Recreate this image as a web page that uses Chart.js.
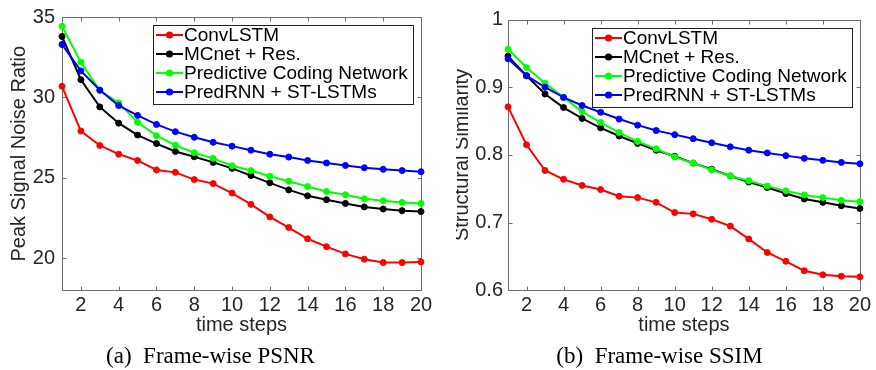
<!DOCTYPE html>
<html>
<head>
<meta charset="utf-8">
<script src="https://cdn.jsdelivr.net/npm/chart.js@4/dist/chart.umd.min.js"></script>
<style>
body { margin: 0; background: #fff; width: 876px; height: 370px; position: relative; overflow: hidden; }
#psnrChart { position: absolute; left: 0; top: 0; }
#ssimChart { position: absolute; left: 456px; top: 0; }
</style>
</head>
<body>
<canvas id="psnrChart" width="440" height="370"></canvas>
<canvas id="ssimChart" width="420" height="370"></canvas>
<script>
// 数据
const timeSteps = [1, 2, 3, 4, 5, 6, 7, 8, 9, 10, 11, 12, 13, 14, 15, 16, 17, 18, 19, 20];
const xTicks = [2, 4, 6, 8, 10, 12, 14, 16, 18, 20];
const seriesNames = ['ConvLSTM', 'MCnet + Res.', 'Predictive Coding Network', 'PredRNN + ST-LSTMs'];
const seriesColors = ['#ff0000', '#000000', '#00ff00', '#0000ff'];

const psnrConvLSTM = [30.69, 27.91, 27.01, 26.47, 26.08, 25.49, 25.34, 24.89, 24.64, 24.05, 23.35, 22.57, 21.91, 21.21, 20.72, 20.27, 19.94, 19.73, 19.73, 19.77];
const psnrMCnet = [33.79, 31.10, 29.41, 28.40, 27.66, 27.13, 26.64, 26.31, 25.96, 25.59, 25.14, 24.69, 24.25, 23.88, 23.64, 23.41, 23.19, 23.06, 22.96, 22.90];
const psnrPCN = [34.42, 32.19, 30.42, 29.66, 28.45, 27.62, 27.03, 26.56, 26.21, 25.75, 25.45, 25.10, 24.79, 24.46, 24.15, 23.95, 23.70, 23.58, 23.47, 23.41];
const psnrPredRNN = [33.29, 31.65, 30.46, 29.49, 28.88, 28.32, 27.87, 27.52, 27.21, 26.97, 26.72, 26.47, 26.29, 26.08, 25.92, 25.77, 25.63, 25.53, 25.45, 25.38];
const psnrTicks = [20, 25, 30, 35];

const ssimConvLSTM = [0.871, 0.815, 0.777, 0.764, 0.755, 0.749, 0.739, 0.737, 0.730, 0.715, 0.713, 0.705, 0.695, 0.676, 0.656, 0.643, 0.629, 0.623, 0.621, 0.620];
const ssimMCnet = [0.946, 0.917, 0.890, 0.870, 0.854, 0.840, 0.828, 0.817, 0.807, 0.798, 0.788, 0.779, 0.769, 0.760, 0.752, 0.743, 0.735, 0.730, 0.725, 0.721];
const ssimPCN = [0.956, 0.929, 0.906, 0.885, 0.864, 0.848, 0.833, 0.820, 0.809, 0.797, 0.788, 0.778, 0.769, 0.762, 0.754, 0.747, 0.741, 0.737, 0.733, 0.731];
const ssimPredRNN = [0.942, 0.917, 0.900, 0.885, 0.873, 0.863, 0.853, 0.844, 0.836, 0.830, 0.824, 0.818, 0.812, 0.807, 0.803, 0.799, 0.795, 0.792, 0.789, 0.787];
const ssimTicks = [0.6, 0.7, 0.8, 0.9, 1];

const sansFont = '"Liberation Sans", Arial, sans-serif';
const textColor = '#262626';

// MATLAB 风格的边框和向内刻度
const boxPlugin = {
    id: 'matlabBox',
    beforeDatasetsDraw(chart) {
        const { ctx, chartArea: a, scales } = chart;
        const l = Math.round(a.left) + 0.5, r = Math.round(a.right) + 0.5;
        const t = Math.round(a.top) + 0.5, b = Math.round(a.bottom) + 0.5;
        ctx.save();
        ctx.strokeStyle = '#6e6e6e';
        ctx.lineWidth = 1;
        ctx.strokeRect(l, t, r - l, b - t);
        ctx.beginPath();
        scales.x.ticks.forEach(tk => {
            const px = Math.round(scales.x.getPixelForValue(tk.value)) + 0.5;
            ctx.moveTo(px, b); ctx.lineTo(px, b - 4);
            ctx.moveTo(px, t); ctx.lineTo(px, t + 4);
        });
        scales.y.ticks.forEach(tk => {
            const py = Math.round(scales.y.getPixelForValue(tk.value)) + 0.5;
            ctx.moveTo(l, py); ctx.lineTo(l + 4, py);
            ctx.moveTo(r, py); ctx.lineTo(r - 4, py);
        });
        ctx.stroke();
        ctx.restore();
    }
};

// 带边框的图例
const legendPlugin = {
    id: 'boxLegend',
    afterDraw(chart) {
        const { ctx, chartArea: a } = chart;
        const sets = chart.data.datasets;
        ctx.save();
        ctx.font = '19px ' + sansFont;
        const textW = Math.max(...sets.map(d => ctx.measureText(d.label).width));
        const w = Math.round(31 + textW + 5), h = 79;
        const right = Math.round(a.right) - 8, top = Math.round(a.top) + 8;
        const left = right - w;
        ctx.fillStyle = '#fff';
        ctx.fillRect(left, top, w, h);
        ctx.strokeStyle = '#222';
        ctx.lineWidth = 1;
        ctx.strokeRect(left + 0.5, top + 0.5, w, h);
        sets.forEach((d, i) => {
            const cy = top + 10 + i * 19;
            ctx.strokeStyle = d.borderColor;
            ctx.lineWidth = 2;
            ctx.beginPath();
            ctx.moveTo(left + 3, cy);
            ctx.lineTo(left + 30, cy);
            ctx.stroke();
            ctx.fillStyle = d.borderColor;
            ctx.beginPath();
            ctx.arc(left + 16.5, cy, 3.6, 0, Math.PI * 2);
            ctx.fill();
            ctx.fillStyle = '#000';
            ctx.textBaseline = 'middle';
            ctx.fillText(d.label, left + 31, cy + 1);
        });
        ctx.restore();
    }
};

function createChart(canvasId, yTitle, caption, series, yMin, yMax, yTicks, pad) {
    const ctx = document.getElementById(canvasId).getContext('2d');
    return new Chart(ctx, {
        type: 'line',
        data: {
            datasets: series.map((values, i) => ({
                label: seriesNames[i],
                data: timeSteps.map((x, j) => ({ x: x, y: values[j] })),
                borderColor: seriesColors[i],
                backgroundColor: seriesColors[i],
                borderWidth: 2,
                pointRadius: 3,
                pointBorderWidth: 1,
                tension: 0,
                clip: false,
                order: series.length - i
            }))
        },
        options: {
            responsive: false,
            animation: false,
            devicePixelRatio: 1,
            layout: { padding: { left: 0, right: pad.right, top: pad.top, bottom: 0 } },
            scales: {
                x: {
                    type: 'linear',
                    min: 1,
                    max: 20,
                    afterBuildTicks: s => { s.ticks = xTicks.map(v => ({ value: v })); },
                    afterFit: s => { s.height = 55.3; },
                    grid: { display: false, drawTicks: false },
                    border: { display: false },
                    ticks: {
                        color: textColor,
                        padding: 5,
                        maxRotation: 0,
                        font: { family: sansFont, size: 20, lineHeight: 1 },
                        callback: v => String(v)
                    },
                    title: {
                        display: true,
                        text: 'time steps',
                        color: textColor,
                        padding: { top: 0, bottom: 10.3 },
                        font: { family: sansFont, size: 20, lineHeight: 1 }
                    }
                },
                y: {
                    min: yMin,
                    max: yMax,
                    afterBuildTicks: s => { s.ticks = yTicks.map(v => ({ value: v })); },
                    afterFit: s => { s.width = pad.left; },
                    grid: { display: false, drawTicks: false },
                    border: { display: false },
                    ticks: {
                        color: textColor,
                        padding: pad.tickPad,
                        font: { family: sansFont, size: 20, lineHeight: 1 },
                        callback: v => String(v)
                    },
                    title: {
                        display: true,
                        text: yTitle,
                        color: textColor,
                        padding: { top: pad.titlePad, bottom: 0 },
                        font: { family: sansFont, size: 20, lineHeight: 0.6 }
                    }
                }
            },
            plugins: {
                legend: { display: false },
                tooltip: { enabled: false },
                title: {
                    display: true,
                    position: 'bottom',
                    text: caption,
                    color: '#000',
                    padding: { top: 0, bottom: 1.3 },
                    font: { family: '"Liberation Serif", "Times New Roman", serif', size: 23, weight: 'normal', lineHeight: 1 }
                }
            }
        },
        plugins: [boxPlugin, legendPlugin]
    });
}

createChart('psnrChart', 'Peak Signal Noise Ratio', '(a)  Frame-wise PSNR',
    [psnrConvLSTM, psnrMCnet, psnrPCN, psnrPredRNN], 18, 35, psnrTicks,
    { left: 62, right: 19, top: 15, tickPad: 7, titlePad: 13 });

createChart('ssimChart', 'Structural Similarity', '(b)  Frame-wise SSIM',
    [ssimConvLSTM, ssimMCnet, ssimPCN, ssimPredRNN], 0.6, 1, ssimTicks,
    { left: 52, right: 13, top: 19.5, tickPad: 5, titlePad: 0 });
</script>
</body>
</html>
